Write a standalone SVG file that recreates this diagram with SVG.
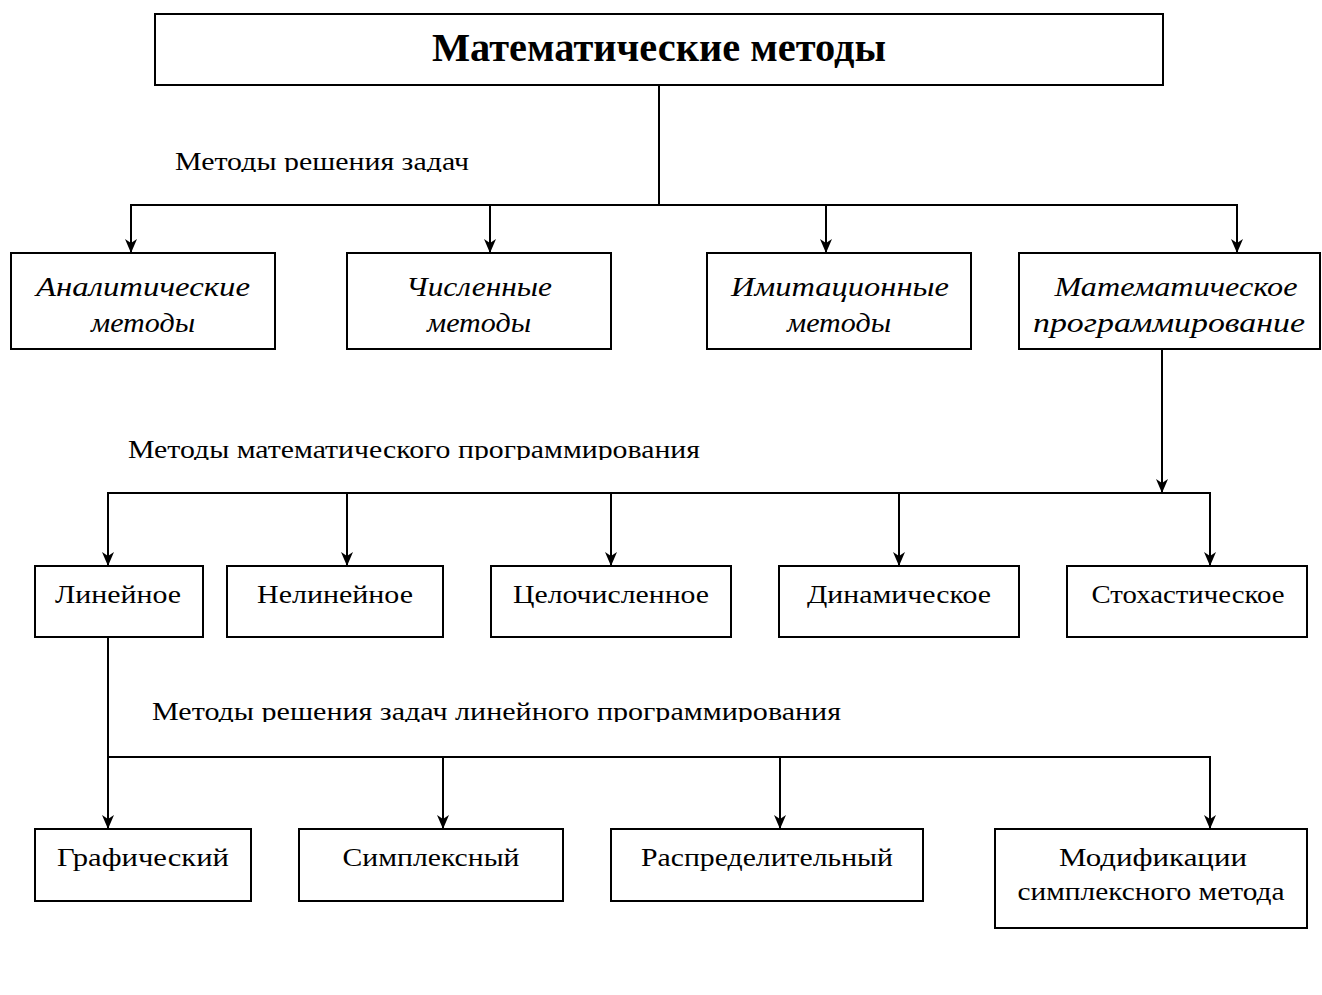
<svg xmlns="http://www.w3.org/2000/svg" width="1322" height="995" viewBox="0 0 1322 995">
<style>
.box{fill:#fff;stroke:#000;stroke-width:2}
.ln{fill:none;stroke:#000;stroke-width:2}
.arr{fill:none;stroke:#000;stroke-width:2;marker-end:url(#ah)}
text{font-family:"Liberation Serif",serif}
.title{font-weight:bold;font-size:40px;text-anchor:middle}
.it{font-style:italic;font-size:28px;text-anchor:middle}
.nt{font-size:25px;text-anchor:middle}
.lbl{font-size:25px}
</style>
<defs>
<marker id="ah" viewBox="0 0 14 12" refX="14" refY="6" markerWidth="14" markerHeight="12" markerUnits="userSpaceOnUse" orient="auto">
<path d="M0,0 L14,6 L0,12 L4,6 Z" fill="#000"/>
</marker>
<clipPath id="c1"><rect x="100" y="130" width="600" height="42"/></clipPath>
<clipPath id="c2"><rect x="100" y="420" width="700" height="40"/></clipPath>
<clipPath id="c3"><rect x="100" y="690" width="800" height="32"/></clipPath>
</defs>
<rect width="1322" height="995" fill="#fff"/>
<g id="connectors">
<line class="ln" x1="659" y1="85" x2="659" y2="205"/>
<line class="ln" x1="130" y1="205" x2="1238" y2="205"/>
<line class="arr" x1="131" y1="205" x2="131" y2="253"/>
<line class="arr" x1="490" y1="205" x2="490" y2="253"/>
<line class="arr" x1="826" y1="205" x2="826" y2="253"/>
<line class="arr" x1="1237" y1="205" x2="1237" y2="253"/>
<line class="arr" x1="1162" y1="349" x2="1162" y2="493"/>
<line class="ln" x1="107" y1="493" x2="1211" y2="493"/>
<line class="arr" x1="108" y1="493" x2="108" y2="566"/>
<line class="arr" x1="347" y1="493" x2="347" y2="566"/>
<line class="arr" x1="611" y1="493" x2="611" y2="566"/>
<line class="arr" x1="899" y1="493" x2="899" y2="566"/>
<line class="arr" x1="1210" y1="493" x2="1210" y2="566"/>
<line class="ln" x1="108" y1="637" x2="108" y2="757"/>
<line class="ln" x1="107" y1="757" x2="1211" y2="757"/>
<line class="arr" x1="108" y1="757" x2="108" y2="829"/>
<line class="arr" x1="443" y1="757" x2="443" y2="829"/>
<line class="arr" x1="780" y1="757" x2="780" y2="829"/>
<line class="arr" x1="1210" y1="757" x2="1210" y2="829"/>
</g>
<g id="label1" clip-path="url(#c1)"><text class="lbl" x="175" y="170" textLength="294" lengthAdjust="spacingAndGlyphs">Методы решения задач</text></g>
<g id="label2" clip-path="url(#c2)"><text class="lbl" x="128" y="458" textLength="572" lengthAdjust="spacingAndGlyphs">Методы математического программирования</text></g>
<g id="label3" clip-path="url(#c3)"><text class="lbl" x="152" y="720" textLength="689" lengthAdjust="spacingAndGlyphs">Методы решения задач линейного программирования</text></g>
<g id="root"><rect class="box" x="155" y="14" width="1008" height="71"/><text class="title" x="659" y="61" textLength="454" lengthAdjust="spacingAndGlyphs">Математические методы</text></g>
<g id="analytic"><rect class="box" x="11" y="253" width="264" height="96"/><text class="it" x="143" y="296" textLength="214" lengthAdjust="spacingAndGlyphs">Аналитические</text><text class="it" x="143" y="332" textLength="104" lengthAdjust="spacingAndGlyphs">методы</text></g>
<g id="numeric"><rect class="box" x="347" y="253" width="264" height="96"/><text class="it" x="479" y="296" textLength="146" lengthAdjust="spacingAndGlyphs">Численные</text><text class="it" x="479" y="332" textLength="104" lengthAdjust="spacingAndGlyphs">методы</text></g>
<g id="imitation"><rect class="box" x="707" y="253" width="264" height="96"/><text class="it" x="840" y="296" textLength="218" lengthAdjust="spacingAndGlyphs">Имитационные</text><text class="it" x="839" y="332" textLength="104" lengthAdjust="spacingAndGlyphs">методы</text></g>
<g id="mathprog"><rect class="box" x="1019" y="253" width="301" height="96"/><text class="it" x="1176" y="296" textLength="243" lengthAdjust="spacingAndGlyphs">Математическое</text><text class="it" x="1169" y="332" textLength="272" lengthAdjust="spacingAndGlyphs">программирование</text></g>
<g id="linear"><rect class="box" x="35" y="566" width="168" height="71"/><text class="nt" x="118" y="603" textLength="126" lengthAdjust="spacingAndGlyphs">Линейное</text></g>
<g id="nonlinear"><rect class="box" x="227" y="566" width="216" height="71"/><text class="nt" x="335" y="603" textLength="156" lengthAdjust="spacingAndGlyphs">Нелинейное</text></g>
<g id="integer"><rect class="box" x="491" y="566" width="240" height="71"/><text class="nt" x="611" y="603" textLength="196" lengthAdjust="spacingAndGlyphs">Целочисленное</text></g>
<g id="dynamic"><rect class="box" x="779" y="566" width="240" height="71"/><text class="nt" x="899" y="603" textLength="184" lengthAdjust="spacingAndGlyphs">Динамическое</text></g>
<g id="stochastic"><rect class="box" x="1067" y="566" width="240" height="71"/><text class="nt" x="1188" y="603" textLength="193" lengthAdjust="spacingAndGlyphs">Стохастическое</text></g>
<g id="graphic"><rect class="box" x="35" y="829" width="216" height="72"/><text class="nt" x="143" y="866" textLength="172" lengthAdjust="spacingAndGlyphs">Графический</text></g>
<g id="simplex"><rect class="box" x="299" y="829" width="264" height="72"/><text class="nt" x="431" y="866" textLength="177" lengthAdjust="spacingAndGlyphs">Симплексный</text></g>
<g id="distrib"><rect class="box" x="611" y="829" width="312" height="72"/><text class="nt" x="767" y="866" textLength="252" lengthAdjust="spacingAndGlyphs">Распределительный</text></g>
<g id="modif"><rect class="box" x="995" y="829" width="312" height="99"/><text class="nt" x="1153" y="866" textLength="188" lengthAdjust="spacingAndGlyphs">Модификации</text><text class="nt" x="1151" y="900" textLength="267" lengthAdjust="spacingAndGlyphs">симплексного метода</text></g>
</svg>
